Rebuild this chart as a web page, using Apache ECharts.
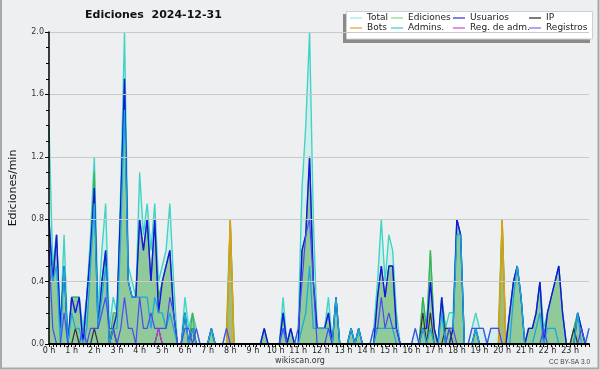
<!DOCTYPE html>
<html>
<head>
<meta charset="utf-8">
<script src="https://cdn.jsdelivr.net/npm/echarts@6/dist/echarts.min.js"></script>
<style>
  html, body { margin: 0; padding: 0; background: #eeeff1; }
  #chart { width: 600px; height: 370px; }
</style>
</head>
<body>
<div id="chart"></div>
<script>
// ---- datos (10 min por punto, 144 puntos) ----
var hourLabels = ['0 h', '1 h', '2 h', '3 h', '4 h', '5 h', '6 h', '7 h', '8 h', '9 h', '10 h', '11 h',
    '12 h', '13 h', '14 h', '15 h', '16 h', '17 h', '18 h', '19 h', '20 h', '21 h', '22 h', '23 h'];

var total = [
    1.4, 0.5, 0.7, 0.1, 0.7, 0,   0.3, 0.3, 0.3, 0.1, 0.3, 0.7,   1.2, 0.2, 0.6, 0.9, 0.1, 0.3,
    0.2, 1.0, 2.0, 0.5, 0.4, 0.3, 1.1, 0.7, 0.9, 0.6, 0.9, 0.4,   0.5, 0.6, 0.9, 0.4, 0, 0,
    0.3, 0.1, 0.2, 0.1, 0, 0,     0, 0.1, 0, 0, 0, 0.1,           0.8, 0, 0, 0, 0, 0,
    0, 0, 0, 0.1, 0, 0,           0, 0, 0.3, 0, 0.1, 0,           0.1, 1.0, 1.4, 2.0, 0.8, 0.1,
    0.1, 0.1, 0.3, 0, 0.3, 0,     0, 0, 0.1, 0, 0.1, 0,           0, 0, 0.1, 0.4, 0.8, 0.4,
    0.7, 0.6, 0.2, 0, 0, 0,       0, 0.1, 0, 0.3, 0.1, 0.6,       0.1, 0, 0.3, 0.1, 0.2, 0.2,
    0.8, 0.7, 0, 0, 0.1, 0.2,     0.1, 0.1, 0, 0.1, 0.1, 0.1,     0.8, 0, 0.2, 0.4, 0.5, 0.3,
    0, 0.1, 0.1, 0.2, 0.4, 0.1,   0.2, 0.3, 0.4, 0.5, 0.2, 0,     0, 0.1, 0.2, 0.1, 0, 0.1
];
var ediciones = [
    0.8, 0.4, 0.7, 0.1, 0.5, 0,   0.3, 0.3, 0.3, 0, 0.3, 0.6,     1.1, 0.1, 0.4, 0.6, 0, 0.2,
    0.2, 0.9, 1.7, 0.4, 0.3, 0.3, 0.8, 0.6, 0.8, 0.4, 0.8, 0.3,   0.4, 0.5, 0.6, 0.2, 0, 0,
    0.2, 0, 0.2, 0, 0, 0,         0, 0.1, 0, 0, 0, 0,             0.8, 0, 0, 0, 0, 0,
    0, 0, 0, 0.1, 0, 0,           0, 0, 0.2, 0, 0.1, 0,           0, 0.6, 0.7, 1.2, 0.4, 0.1,
    0.1, 0.1, 0.2, 0, 0.3, 0,     0, 0, 0.1, 0, 0.1, 0,           0, 0, 0, 0.3, 0.5, 0.3,
    0.5, 0.5, 0.1, 0, 0, 0,       0, 0, 0, 0.3, 0.1, 0.6,         0.1, 0, 0.3, 0.1, 0.1, 0.1,
    0.8, 0.7, 0, 0, 0, 0.1,       0, 0, 0, 0, 0, 0,               0.8, 0, 0.2, 0.4, 0.5, 0.3,
    0, 0.1, 0.1, 0.2, 0.4, 0,     0.2, 0.3, 0.4, 0.5, 0.2, 0,     0, 0.1, 0.2, 0.1, 0, 0
];
var usuarios = [
    0.8, 0.4, 0.7, 0.1, 0.5, 0,   0.3, 0.2, 0.3, 0, 0.3, 0.6,     1.0, 0.1, 0.4, 0.6, 0, 0.1,
    0.2, 0.9, 1.7, 0.4, 0.3, 0.3, 0.8, 0.6, 0.8, 0.4, 0.8, 0.2,   0.4, 0.5, 0.6, 0.2, 0, 0,
    0.2, 0, 0.1, 0, 0, 0,         0, 0.1, 0, 0, 0, 0,             0, 0, 0, 0, 0, 0,
    0, 0, 0, 0.1, 0, 0,           0, 0, 0.2, 0, 0.1, 0,           0, 0.6, 0.7, 1.2, 0.4, 0.1,
    0.1, 0.1, 0.2, 0, 0.3, 0,     0, 0, 0.1, 0, 0.1, 0,           0, 0, 0, 0.3, 0.5, 0.3,
    0.5, 0.5, 0.1, 0, 0, 0,       0, 0, 0, 0.1, 0.1, 0.4,         0.1, 0, 0.3, 0, 0, 0.1,
    0.8, 0.7, 0, 0, 0, 0.1,       0, 0, 0, 0, 0, 0,               0, 0, 0.2, 0.4, 0.5, 0.3,
    0, 0.1, 0.1, 0.2, 0.4, 0,     0.2, 0.3, 0.4, 0.5, 0.2, 0,     0, 0, 0.2, 0.1, 0, 0
];
var ip = [
    0, 0, 0, 0, 0, 0,   0, 0.1, 0, 0, 0, 0,   0.1, 0, 0, 0, 0, 0.1,
    0, 0, 0, 0, 0, 0,   0, 0, 0, 0, 0, 0.1,   0, 0, 0, 0, 0, 0,
    0, 0, 0.1, 0, 0, 0, 0, 0, 0, 0, 0, 0,     0, 0, 0, 0, 0, 0,
    0, 0, 0, 0, 0, 0,   0, 0, 0, 0, 0, 0,     0, 0, 0, 0, 0, 0,
    0, 0, 0, 0, 0, 0,   0, 0, 0, 0, 0, 0,     0, 0, 0, 0, 0, 0,
    0, 0, 0, 0, 0, 0,   0, 0, 0, 0.2, 0, 0.2, 0, 0, 0, 0.1, 0.1, 0,
    0, 0, 0, 0, 0, 0,   0, 0, 0, 0, 0, 0,     0, 0, 0, 0, 0, 0,
    0, 0, 0, 0, 0, 0,   0, 0, 0, 0, 0, 0,     0, 0.1, 0, 0, 0, 0
];
var bots = [
    0, 0, 0, 0, 0, 0,   0, 0, 0, 0, 0, 0,   0, 0, 0, 0, 0, 0,
    0, 0, 0, 0, 0, 0,   0, 0, 0, 0, 0, 0,   0, 0, 0, 0, 0, 0,
    0, 0, 0, 0, 0, 0,   0, 0, 0, 0, 0, 0,   0.8, 0, 0, 0, 0, 0,
    0, 0, 0, 0, 0, 0,   0, 0, 0, 0, 0, 0,   0, 0, 0, 0, 0, 0,
    0, 0, 0, 0, 0, 0,   0, 0, 0, 0, 0, 0,   0, 0, 0, 0, 0, 0,
    0, 0, 0, 0, 0, 0,   0, 0, 0, 0, 0, 0,   0, 0, 0, 0, 0, 0,
    0, 0, 0, 0, 0, 0,   0, 0, 0, 0, 0, 0,   0.8, 0, 0, 0, 0, 0,
    0, 0, 0, 0, 0, 0,   0, 0, 0, 0, 0, 0,   0, 0, 0, 0, 0, 0
];
var admins = [
    0.6, 0.4, 0.5, 0, 0.5, 0,     0.2, 0.1, 0.1, 0, 0.1, 0.5,     0.9, 0.1, 0.3, 0.5, 0, 0.1,
    0.1, 0.7, 1.5, 0.4, 0.3, 0.3, 0.3, 0.3, 0.3, 0.1, 0.3, 0.2,   0.2, 0.1, 0.2, 0.1, 0, 0,
    0.2, 0, 0.1, 0, 0, 0,         0, 0.1, 0, 0, 0, 0,             0, 0, 0, 0, 0, 0,
    0, 0, 0, 0, 0, 0,             0, 0, 0.1, 0, 0, 0,             0, 0.1, 0.2, 0.5, 0.1, 0.1,
    0.1, 0.1, 0.1, 0, 0.3, 0,     0, 0, 0.1, 0, 0.1, 0,           0, 0, 0, 0.1, 0.1, 0.1,
    0.1, 0.1, 0, 0, 0, 0,         0, 0, 0, 0.1, 0, 0.1,           0, 0, 0.2, 0, 0.1, 0.1,
    0.7, 0.7, 0, 0, 0, 0.1,       0, 0, 0, 0, 0, 0,               0, 0, 0, 0.3, 0.5, 0.3,
    0, 0, 0, 0.1, 0.2, 0,         0.1, 0.1, 0.1, 0, 0, 0,         0, 0, 0.2, 0, 0, 0
];
var regAdm = [
    0, 0, 0, 0, 0, 0,   0, 0, 0, 0, 0, 0,   0, 0, 0, 0, 0, 0,
    0, 0, 0, 0, 0, 0,   0, 0, 0, 0, 0, 0.1, 0, 0, 0, 0, 0, 0,
    0, 0, 0, 0, 0, 0,   0, 0, 0, 0, 0, 0,   0, 0, 0, 0, 0, 0,
    0, 0, 0, 0, 0, 0,   0, 0, 0, 0, 0, 0,   0, 0, 0, 0, 0, 0,
    0, 0, 0, 0, 0, 0,   0, 0, 0, 0, 0, 0,   0, 0, 0, 0, 0, 0,
    0, 0, 0, 0, 0, 0,   0, 0, 0, 0, 0, 0,   0, 0, 0, 0, 0, 0,
    0, 0, 0, 0, 0, 0,   0, 0, 0, 0, 0, 0,   0, 0, 0, 0, 0, 0,
    0, 0, 0, 0, 0, 0,   0, 0, 0, 0, 0, 0,   0, 0, 0, 0, 0, 0
];
var registros = [
    0.6, 0.1, 0, 0, 0.2, 0,       0, 0, 0, 0.1, 0, 0.1,           0.1, 0.1, 0.2, 0.3, 0.1, 0.1,
    0, 0.1, 0.3, 0.1, 0.1, 0,     0.3, 0.1, 0.1, 0.2, 0.1, 0.1,   0.1, 0.1, 0.3, 0.2, 0, 0,
    0.1, 0.1, 0, 0.1, 0, 0,       0, 0, 0, 0, 0, 0.1,             0, 0, 0, 0, 0, 0,
    0, 0, 0, 0, 0, 0,             0, 0, 0.1, 0, 0, 0,             0.1, 0.4, 0.7, 0.8, 0.4, 0,
    0, 0, 0.1, 0, 0, 0,           0, 0, 0, 0, 0, 0,               0, 0, 0.1, 0.1, 0.3, 0.1,
    0.2, 0.1, 0.1, 0, 0, 0,       0, 0.1, 0, 0, 0, 0,             0, 0, 0, 0, 0.1, 0.1,
    0, 0, 0, 0, 0.1, 0.1,         0.1, 0.1, 0, 0.1, 0.1, 0.1,     0, 0, 0, 0, 0, 0,
    0, 0, 0, 0, 0, 0.1,           0, 0, 0, 0, 0, 0,               0, 0, 0, 0.1, 0, 0.1
];

var times = [];
for (var h = 0; h < 24; h++) {
    for (var m = 0; m < 60; m += 10) {
        times.push(h + ':' + (m < 10 ? '0' + m : m));
    }
}

function renderEdiciones() {
    var dom = document.getElementById('chart');
    var myChart = echarts.init(dom, null, { renderer: 'canvas' });

    function serie(name, data, color, width, area) {
        var s = {
            name: name,
            type: 'line',
            data: data,
            showSymbol: false,
            symbol: 'none',
            smooth: false,
            lineStyle: { color: color, width: width },
            itemStyle: { color: color },
            emphasis: { disabled: true },
            z: 2
        };
        if (area) {
            s.areaStyle = { color: area, opacity: 1 };
        }
        return s;
    }

    var legendBase = {
        orient: 'vertical',
        top: 13,
        itemGap: 0,
        itemWidth: 12,
        itemHeight: 1.3,
        icon: 'rect',
        padding: 0,
        selectedMode: false,
        textStyle: {
            fontFamily: 'DejaVu Sans',
            fontSize: 9,
            color: '#222',
            lineHeight: 10,
            padding: [0, 0, 0, 0]
        }
    };
    function legendCol(left, items) {
        return Object.assign({}, legendBase, { left: left, data: items });
    }

    var option = {
        backgroundColor: '#eeeff1',
        animation: false,
        textStyle: { fontFamily: 'DejaVu Sans' },
        title: {
            text: 'Ediciones  2024-12-31',
            left: 85,
            top: 10,
            padding: 0,
            textStyle: {
                fontFamily: 'DejaVu Sans',
                fontSize: 11,
                fontWeight: 'bold',
                color: '#111'
            }
        },
        legend: [
            legendCol(350, [
                { name: 'Total', itemStyle: { color: '#a6e6e2' } },
                { name: 'Bots', itemStyle: { color: '#f0a040' } }
            ]),
            legendCol(391, [
                { name: 'Ediciones', itemStyle: { color: '#8ed88e' } },
                { name: 'Admins.', itemStyle: { color: '#48cce0' } }
            ]),
            legendCol(453, [
                { name: 'Usuarios', itemStyle: { color: '#3a3ae6' } },
                { name: 'Reg. de adm.', itemStyle: { color: '#d050e0' } }
            ]),
            legendCol(529, [
                { name: 'IP', itemStyle: { color: '#333333' } },
                { name: 'Registros', itemStyle: { color: '#7a7af0' } }
            ])
        ],
        grid: {
            left: 46,
            right: 11,
            top: 32,
            bottom: 26,
            containLabel: false
        },
        xAxis: {
            type: 'category',
            data: times,
            boundaryGap: false,
            z: 5,
            axisLine: { show: true, lineStyle: { color: '#000', width: 2 } },
            axisTick: {
                show: true,
                interval: 0,
                length: 3,
                lineStyle: { color: '#000', width: 1 }
            },
            axisLabel: {
                interval: 5,
                margin: 3,
                fontFamily: 'DejaVu Sans',
                fontSize: 8,
                color: '#222',
                formatter: function(val, idx) {
                    return hourLabels[idx / 6] || '';
                }
            },
            splitLine: { show: false }
        },
        yAxis: {
            type: 'value',
            min: 0,
            max: 2.0,
            interval: 0.4,
            z: 5,
            name: 'Ediciones/min',
            nameLocation: 'middle',
            nameGap: 30,
            nameTextStyle: {
                fontFamily: 'DejaVu Sans',
                fontSize: 11,
                color: '#111'
            },
            axisLine: { show: true, lineStyle: { color: '#000', width: 1.5 } },
            axisTick: { show: true, length: 4, lineStyle: { color: '#000' } },
            minorTick: { show: true, splitNumber: 4, length: 3, lineStyle: { color: '#000' } },
            axisLabel: {
                margin: 5,
                fontFamily: 'DejaVu Sans',
                fontSize: 8,
                color: '#333',
                formatter: function(v) { return v.toFixed(1); }
            },
            splitLine: { show: true, lineStyle: { color: '#c9c9c9', width: 1 } }
        },
        graphic: [
            {
                type: 'polyline', silent: true, z: 0,
                shape: { points: [[1, 0], [1, 368.5], [598.5, 368.5], [598.5, 0]] },
                style: { stroke: '#a9a9a9', lineWidth: 2, fill: null }
            },
            {
                type: 'rect', silent: true, z: 3,
                shape: { x: 343, y: 14, width: 247, height: 29 },
                style: { fill: '#8a8a8a' }
            },
            {
                type: 'rect', silent: true, z: 3,
                shape: { x: 346.5, y: 11.5, width: 246, height: 27.5 },
                style: { fill: '#ffffff', stroke: '#cfcfcf', lineWidth: 1 }
            },
            {
                type: 'text', silent: true, z: 3,
                x: 300, y: 361,
                style: {
                    text: 'wikiscan.org', fontFamily: 'DejaVu Sans', fontSize: 8,
                    fill: '#333', align: 'center', verticalAlign: 'middle'
                }
            },
            {
                type: 'text', silent: true, z: 3,
                x: 590, y: 362,
                style: {
                    text: 'CC BY-SA 3.0', fontFamily: 'Liberation Sans', fontSize: 6.5,
                    fill: '#444', align: 'right', verticalAlign: 'middle'
                }
            }
        ],
        series: [
            serie('Total', total, '#40d4c6', 1.4, 'rgba(190,236,228,0.55)'),
            serie('Ediciones', ediciones, '#3fb04a', 1.2, 'rgba(118,188,124,0.72)'),
            serie('Bots', bots, '#f09a00', 1.4, 'rgba(225,150,20,0.3)'),
            serie('Usuarios', usuarios, '#1414e6', 1.4),
            serie('IP', ip, '#333333', 1.2),
            serie('Admins.', admins, '#1aaad8', 1.3),
            serie('Reg. de adm.', regAdm, '#c83ad8', 1.2),
            serie('Registros', registros, '#4a4af0', 1.2)
        ]
    };

    if (option && typeof option === 'object') {
        myChart.setOption(option);
    }

    window.addEventListener('resize', function() {
        myChart.resize();
    });
}

renderEdiciones();
</script>
</body>
</html>
